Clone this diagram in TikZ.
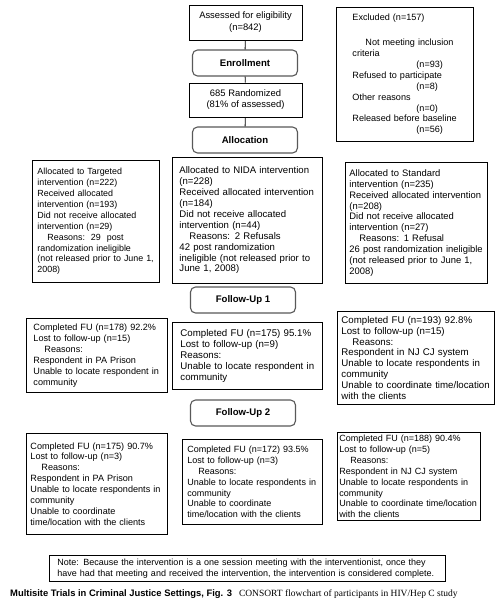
\documentclass[tikz,border=0pt]{standalone}
\usepackage{fontspec}
\setmainfont{Liberation Sans}
\newfontfamily\capserif{Liberation Serif}
\usetikzlibrary{positioning}

\begin{document}
\begin{tikzpicture}[x=1pt,y=-1pt,
		cbox/.style={draw=black, line width=0.9pt, anchor=north west, align=left,
			inner ysep=0pt, font=\fontsize{#1}{10.9}\selectfont},
		stage/.style={draw=black!65, line width=1.1pt, rounded corners=5pt,
			minimum width=105pt, minimum height=26pt,
			font=\fontsize{9.6}{11}\selectfont\bfseries},
		spine/.style={draw=black, line width=0.9pt}]
		\fill[white] (0,0) rectangle (496,615);
		\useasboundingbox (0,0) rectangle (496,615);

		% enrollment spine
		\node[cbox=9.4, anchor=center, align=center, minimum width=113pt, minimum height=35pt]
			(assess) at (245.5,22.5) {Assessed for eligibility\\[1pt](n=842)};
		\node[stage] (enroll) at (245,63) {Enrollment};
		\node[cbox=9.4, anchor=center, align=center, minimum width=113pt, minimum height=34pt]
			(random) at (245.5,100) {685 Randomized\\(81\% of assessed)};
		\node[stage] (alloc) at (245,140) {Allocation};
		\draw[spine] (assess) -- (enroll);
		\draw[spine] (enroll) -- (random);
		\draw[spine] (random) -- (alloc);

		\node[cbox=9.1, inner xsep=16pt, text width=105pt, minimum height=134pt]
			(excl) at (336,7) {Excluded (n=157)\\[14pt]
			\hspace*{13pt}Not meeting inclusion\\
			criteria\\
			\hspace*{64pt}(n=93)\\
			Refused to participate\\
			\hspace*{64pt}(n=8)\\
			Other reasons\\
			\hspace*{64pt}(n=0)\\
			Released before baseline\\
			\hspace*{64pt}(n=56)};

		% allocation
		\node[cbox=8.9, inner xsep=5pt, text width=117pt, minimum height=122pt]
			(tgt) at (32,160) {Allocated to Targeted\\intervention (n=222)\\Received allocated\\
			intervention (n=193)\\Did not receive allocated\\intervention (n=29)\\
			\hspace*{10pt}Reasons:~~29~~post\\randomization ineligible\\
			(not released prior to June 1,\\2008)};
		\node[cbox=9.6, inner xsep=7pt, text width=136pt, minimum height=126pt]
			(nida) at (172,157) {Allocated to NIDA intervention\\(n=228)\\
			Received allocated intervention\\(n=184)\\Did not receive allocated\\
			intervention (n=44)\\\hspace*{10pt}Reasons: 2 Refusals\\42 post randomization\\
			ineligible (not released prior to\\June 1, 2008)};
		\node[cbox=9.4, inner xsep=4pt, text width=134pt, minimum height=121pt]
			(std) at (345,162) {Allocated to Standard\\intervention (n=235)\\
			Received allocated intervention\\(n=208)\\Did not receive allocated\\
			intervention (n=27)\\\hspace*{10pt}Reasons: 1 Refusal\\
			26 post randomization ineligible\\(not released prior to June 1,\\2008)};

		% follow-up 1
		\node[stage] (fu1) at (243,300) {Follow-Up 1};
		\node[cbox=9.1, inner xsep=7pt, text width=127pt, minimum height=74pt]
			(fu1tgt) at (26,318) {Completed FU (n=178) 92.2\%\\Lost to follow-up (n=15)\\
			\hspace*{11pt}Reasons:\\Respondent in PA Prison\\Unable to locate respondent in\\community};
		\node[cbox=9.7, inner xsep=8pt, text width=134pt, minimum height=67pt]
			(fu1nida) at (172,322) {Completed FU (n=175) 95.1\%\\Lost to follow-up (n=9)\\
			Reasons:\\Unable to locate respondent in\\community};
		\node[cbox=9.7, inner xsep=4pt, text width=149pt, minimum height=93pt]
			(fu1std) at (337,311) {Completed FU (n=193) 92.8\%\\Lost to follow-up (n=15)\\
			\hspace*{11pt}Reasons:\\Respondent in NJ CJ system\\Unable to locate respondents in\\
			community\\Unable to coordinate time/location\\with the clients};

		% follow-up 2
		\node[stage] (fu2) at (243,413) {Follow-Up 2};
		\node[cbox=9.1, inner xsep=4pt, text width=133pt, minimum height=101pt]
			(fu2tgt) at (26,433) {Completed FU (n=175) 90.7\%\\Lost to follow-up (n=3)\\
			\hspace*{11pt}Reasons:\\Respondent in PA Prison\\Unable to locate respondents in\\
			community\\Unable to coordinate\\time/location with the clients};
		\node[cbox=9.0, inner xsep=5pt, text width=130pt, minimum height=85pt]
			(fu2nida) at (182,439) {Completed FU (n=172) 93.5\%\\Lost to follow-up (n=3)\\
			\hspace*{11pt}Reasons:\\Unable to locate respondents in\\community\\
			Unable to coordinate\\time/location with the clients};
		\node[cbox=9.0, inner xsep=2pt, text width=139pt, minimum height=88pt]
			(fu2std) at (337,432) {Completed FU (n=188) 90.4\%\\Lost to follow-up (n=5)\\
			\hspace*{11pt}Reasons:\\Respondent in NJ CJ system\\Unable to locate respondents in\\
			community\\Unable to coordinate time/location\\with the clients};

		% note and caption
		\node[cbox=9.0, inner xsep=8pt, text width=380pt, minimum height=26pt]
			(note) at (49,555) {Note: Because the intervention is a one session meeting with the interventionist, once they\\
			have had that meeting and received the intervention, the intervention is considered complete.};
		\node[anchor=base west, inner sep=0pt] (caption) at (10,596.5)
			{{\fontsize{9.4}{10}\selectfont\bfseries Multisite Trials in Criminal Justice Settings, Fig. 3}\hspace{7pt}%
			{\capserif\fontsize{9.5}{10}\selectfont CONSORT flowchart of participants in HIV/Hep C study}};
	\end{tikzpicture}
\end{document}
